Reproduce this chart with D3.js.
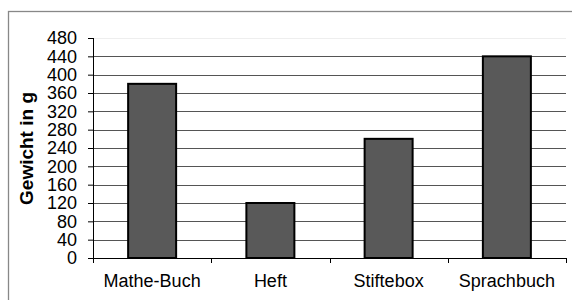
<!DOCTYPE html>
<html>
<head>
<meta charset="utf-8">
<script src="https://cdn.jsdelivr.net/npm/d3@7"></script>
<style>
  body { margin: 0; background: #fff; }
  text { font-family: "Liberation Sans", Arial, sans-serif; }
</style>
</head>
<body>
<script>
// data
var categories = ["Mathe-Buch", "Heft", "Stiftebox", "Sprachbuch"];
var weights = [380, 120, 260, 440];
var yTicks = [0, 40, 80, 120, 160, 200, 240, 280, 320, 360, 400, 440, 480];
var yLabel = "Gewicht in g";

var W = 572, H = 300;
var MARGINS = {left: 93, right: 6, top: 38, bottom: 42};
var width = W - MARGINS.left - MARGINS.right;
var height = H - MARGINS.top - MARGINS.bottom;

var svg = d3.select("body").append("svg")
    .attr("width", W)
    .attr("height", H);

// outer frame (cut at the right and bottom)
svg.append("rect")
    .attr("x", 8.5).attr("y", 11.5)
    .attr("width", 600).attr("height", 400)
    .attr("fill", "none")
    .attr("stroke", "#888")
    .attr("stroke-width", 1.3);

var g = svg.append("g")
    .attr("transform", "translate(" + MARGINS.left + "," + MARGINS.top + ")");

var xBand = d3.scaleBand().domain(categories).range([0, width]);
var yScale = d3.scaleLinear().domain([0, 480]).range([height, 0]);
var barW = 48;

// gridlines
g.append("g").selectAll("line")
    .data(yTicks.filter(function (d) { return d > 0; }))
    .enter().append("line")
    .attr("x1", 0).attr("x2", width)
    .attr("y1", function (d) { return Math.round(yScale(d)) + 0.5; })
    .attr("y2", function (d) { return Math.round(yScale(d)) + 0.5; })
    .attr("stroke", function (d) { return d === 480 ? "#eee" : "#555"; })
    .attr("stroke-width", 1);

// bars
g.append("g").selectAll("rect")
    .data(weights)
    .enter().append("rect")
    .attr("x", function (d, i) { return xBand(categories[i]) + (xBand.bandwidth() - barW) / 2; })
    .attr("width", barW)
    .attr("y", function (d) { return yScale(d); })
    .attr("height", function (d) { return height - yScale(d); })
    .attr("fill", "#595959")
    .attr("stroke", "#000")
    .attr("stroke-width", 2);

// y axis
var yAxis = g.append("g")
    .call(d3.axisLeft(yScale).tickValues(yTicks).tickSize(5).tickPadding(11));
yAxis.select(".domain").attr("d", "M0.5,0V" + (height + 5));
yAxis.selectAll("text").attr("font-size", 18).attr("fill", "#000").style("font-family", "Liberation Sans, Arial, sans-serif");
yAxis.selectAll("line").attr("x1", 0.5).attr("x2", -5);

// x axis
var xAxis = g.append("g")
    .attr("transform", "translate(0," + height + ")")
    .call(d3.axisBottom(xBand).tickSize(0).tickPadding(16));
xAxis.select(".domain").attr("d", "M0," + 0.5 + "H" + width);
xAxis.selectAll("text").attr("font-size", 18).attr("fill", "#000").style("font-family", "Liberation Sans, Arial, sans-serif");
xAxis.append("g").selectAll("line")
    .data(categories)
    .enter().append("line")
    .attr("x1", function (d) { return Math.round(xBand(d) + xBand.bandwidth()) + 0.5; })
    .attr("x2", function (d) { return Math.round(xBand(d) + xBand.bandwidth()) + 0.5; })
    .attr("y1", 0).attr("y2", 5)
    .attr("stroke", "#000");

// axis title
svg.append("text")
    .attr("transform", "translate(33,148.5) rotate(-90)")
    .attr("text-anchor", "middle")
    .attr("font-size", 19)
    .attr("font-weight", "bold")
    .text(yLabel);
</script>
</body>
</html>
